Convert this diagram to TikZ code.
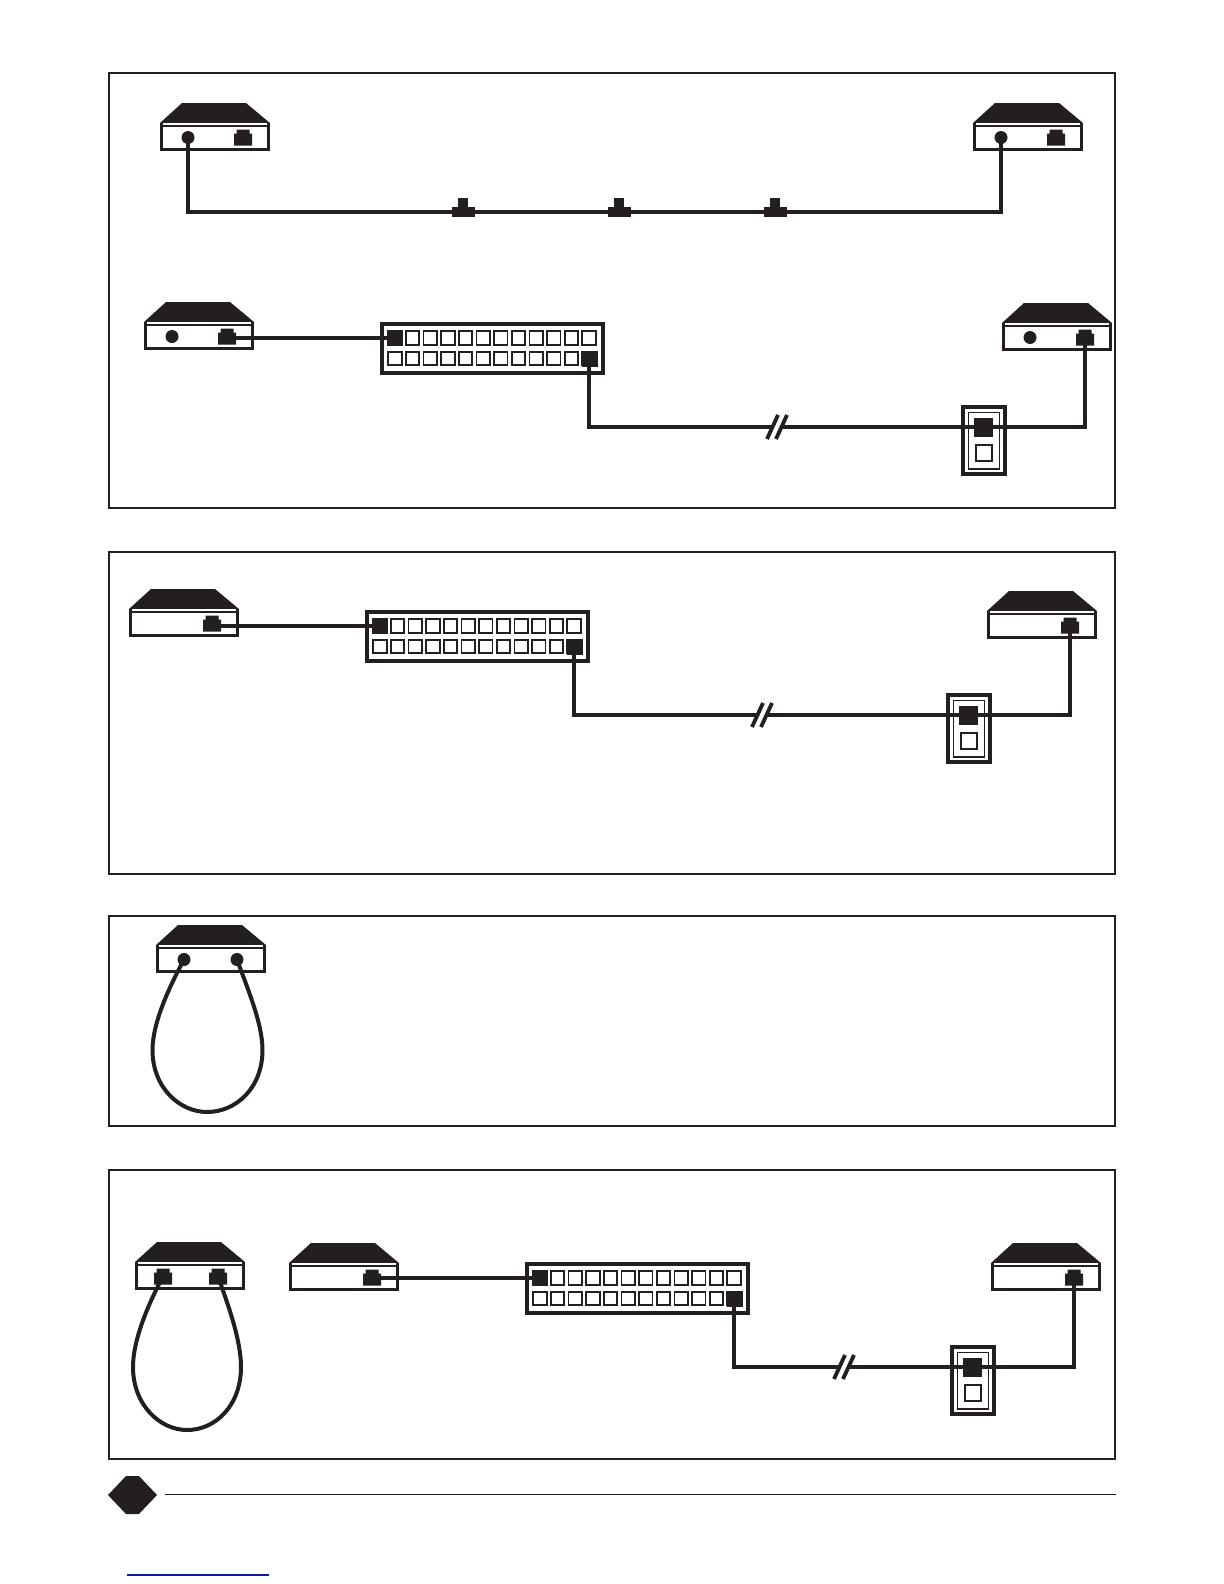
\documentclass[tikz,border=0pt]{standalone}
\usepackage{amsmath}
\usepackage{amssymb}
\usepackage{tikz}

\definecolor{ink}{RGB}{35,31,32}
\definecolor{linkblue}{RGB}{15,25,170}

\tikzset{
  frame/.style={draw=ink,line width=1.3pt},
  cable/.style={draw=ink,line width=2.4pt,line join=miter},
  hubport/.style={draw=ink,line width=1.05pt,fill=white},
  pics/modem/.style={code={
    \fill[ink] (21,0)--(85,0)--(109,20)--(-1,20)--cycle;
    \draw[ink,line width=1.8pt,fill=white] (0.5,20)--(0.5,46.5)--(107.5,46.5)--(107.5,20);
    \draw[ink,line width=1pt] (0.5,23.2)--(107.5,23.2);
    \coordinate (-a) at (27,34.5);
    \coordinate (-b) at (82,34.5);
    \coordinate (-c) at (80,34.5);
  }},
  pics/bnc/.style={code={\fill[ink] (0,0) circle (6.5);}},
  pics/rjport/.style={code={
    \fill[ink] (-9,-4)--(-6.5,-4)--(-6.5,-8)--(6.5,-8)--(6.5,-4)--(9,-4)--(9,8)--(-9,8)--cycle;
  }},
  pics/hub/.style={code={
    \draw[ink,line width=2.2pt,fill=white] (2,2) rectangle (223,51);
    \foreach \i in {0,...,11} {
      \draw[hubport] ({15+17.64*\i-6.7},9.3) rectangle ++(13.4,13.4);
      \draw[hubport] ({15+17.64*\i-6.7},29.8) rectangle ++(13.4,13.4);
    }
    \fill[ink] (7.5,8) rectangle ++(15,16);
    \fill[ink] (201.5,28.5) rectangle ++(16,16);
    \coordinate (-a) at (15,16);
    \coordinate (-b) at (209,36.5);
  }},
  pics/wallplate/.style={code={
    \draw[ink,line width=2.2pt,fill=white] (2,2) rectangle (44,69);
    \draw[ink,line width=1.1pt] (7.5,7.5) rectangle (38.5,64);
    \fill[ink] (13,13) rectangle ++(19,19);
    \draw[ink,line width=1.3pt,fill=white] (15,40) rectangle ++(16,16);
    \coordinate (-a) at (22.5,22);
  }},
  pics/tap/.style={code={
    \fill[ink] (-11.5,-5) rectangle (11.5,5);
    \fill[ink] (-5,-14) rectangle (5,0);
  }},
  pics/breakmark/.style={code={
    \fill[white] (-4,-3) rectangle (4,3);
    \draw[ink,line width=2.3pt] (-10,12)--(1,-12);
    \draw[ink,line width=2.3pt] (-1,12)--(10,-12);
  }}
}

\begin{document}
\begin{tikzpicture}[x=0.6pt,y=-0.6pt]
  \useasboundingbox (0,0) rectangle (1224,1584);

  \draw[frame] (109,73) rectangle (1115,508);
  \draw[frame] (109,552) rectangle (1115,874);
  \draw[frame] (109,916) rectangle (1115,1126);
  \draw[frame] (109,1170) rectangle (1115,1459);

  \pic (ma) at (161,103) {modem};
  \pic (mb) at (974,103) {modem};
  \coordinate (busa) at (188,212);
  \coordinate (busb) at (1001,212);
  \draw[cable] (ma-a)--(busa)--(busb)--(mb-a);
  \pic at (ma-a) {bnc};
  \pic at (mb-a) {bnc};
  \pic at (ma-b) {rjport};
  \pic at (mb-b) {rjport};
  \pic at (463,212) {tap};
  \pic at (619,212) {tap};
  \pic at (775,212) {tap};

  \pic (mc) at (145,302) {modem};
  \pic (md) at (1003,303) {modem};
  \pic at (mc-a) {bnc};
  \pic at (md-a) {bnc};
  \pic at (mc-b) {rjport};
  \pic at (md-b) {rjport};
  \pic (hc) at (380,322) {hub};
  \pic (wc) at (961,405) {wallplate};
  \draw[cable] (hc-a-|mc-b)--(hc-a);
  \draw[cable] (hc-b)|-(wc-a)-|(md-b);
  \pic at (777,427) {breakmark};

  \pic (me) at (130,589) {modem};
  \pic (mf) at (988,591) {modem};
  \pic at (me-b) {rjport};
  \pic at (mf-b) {rjport};
  \pic (he) at (365,610) {hub};
  \pic (we) at (946,693) {wallplate};
  \draw[cable] (he-a-|me-b)--(he-a);
  \draw[cable] (he-b)|-(we-a)-|(mf-b);
  \pic at (762,715) {breakmark};

  \pic (mg) at (157,925) {modem};
  \coordinate (gl) at (152.5,1050);
  \coordinate (gm) at (207,1112);
  \coordinate (gr) at (262.5,1050);
  \draw[cable] (mg-a) .. controls +(-15,28) and +(0,-27) .. (gl)
    .. controls +(0,38) and +(-27,0) .. (gm)
    .. controls +(29,0) and +(0,38) .. (gr)
    .. controls +(0,-27) and +(10,28) .. (mg-c);
  \pic at (mg-a) {bnc};
  \pic at (mg-c) {bnc};

  \pic (mh) at (136,1242) {modem};
  \coordinate (hl) at (133,1367);
  \coordinate (hm) at (187,1430);
  \coordinate (hr) at (241,1367);
  \draw[cable] (mh-a) .. controls +(-15,28) and +(0,-27) .. (hl)
    .. controls +(0,38) and +(-27,0) .. (hm)
    .. controls +(29,0) and +(0,38) .. (hr)
    .. controls +(0,-27) and +(10,28) .. (mh-b);
  \pic at (mh-a) {rjport};
  \pic at (mh-b) {rjport};

  \pic (mi) at (290,1243) {modem};
  \pic (mj) at (992,1243) {modem};
  \pic at (mi-b) {rjport};
  \pic at (mj-b) {rjport};
  \pic (hi) at (525,1262) {hub};
  \pic (wi) at (950,1345) {wallplate};
  \draw[cable] (hi-a-|mi-b)--(hi-a);
  \draw[cable] (hi-b)|-(wi-a)-|(mj-b);
  \pic at (844,1367) {breakmark};

  \fill[ink] (108,1495)--(126,1476)--(139,1476)--(157,1495)--(139,1514)--(126,1514)--cycle;
  \coordinate (rulea) at (165,1494);
  \coordinate (ruleb) at (1116,1494);
  \draw[ink,line width=0.6pt] (rulea)--(ruleb);
  \coordinate (linka) at (127,1575);
  \coordinate (linkb) at (269,1575);
  \draw[linkblue,line width=0.7pt] (linka)--(linkb);
\end{tikzpicture}
\end{document}
